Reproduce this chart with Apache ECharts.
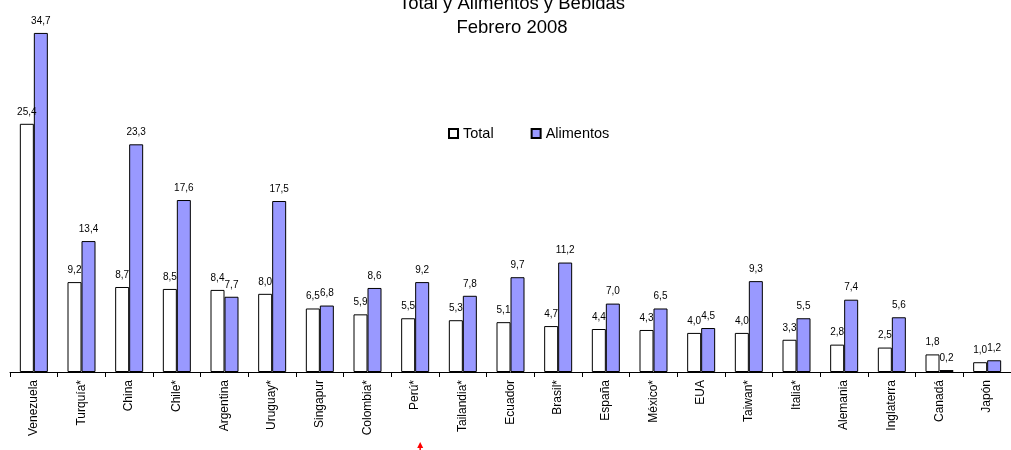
<!DOCTYPE html>
<html>
<head>
<meta charset="utf-8">
<script src="https://cdn.jsdelivr.net/npm/echarts@6/dist/echarts.min.js"></script>
<style>
  html, body { margin: 0; padding: 0; background: #fff; }
  #main { width: 1011px; height: 450px; }
</style>
</head>
<body>
<div id="main"></div>
<script>
var paises = ['Venezuela', 'Turquía*', 'China', 'Chile*', 'Argentina', 'Uruguay*', 'Singapur',
  'Colombia*', 'Perú*', 'Tailandia*', 'Ecuador', 'Brasil*', 'España', 'México*', 'EUA',
  'Taiwan*', 'Italia*', 'Alemania', 'Inglaterra', 'Canadá', 'Japón']
var total = [25.4, 9.2, 8.7, 8.5, 8.4, 8.0, 6.5, 5.9, 5.5, 5.3, 5.1, 4.7, 4.4, 4.3, 4.0,
  4.0, 3.3, 2.8, 2.5, 1.8, 1.0]
var alimentos = [34.7, 13.4, 23.3, 17.6, 7.7, 17.5, 6.8, 8.6, 9.2, 7.8, 9.7, 11.2, 7.0, 6.5, 4.5,
  9.3, 5.5, 7.4, 5.6, 0.2, 1.2]
var marcado = 'Perú*'

var fuente = 'Liberation Sans, Arial, sans-serif'

function etiqueta(p) {
  return p.value.toFixed(1).replace('.', ',')
}

var myChart = echarts.init(document.getElementById('main'))
var option = {
  animation: false,
  backgroundColor: '#ffffff',
  textStyle: { fontFamily: fuente },
  title: {
    text: 'Total y Alimentos y Bebidas\nFebrero 2008',
    left: 507,
    top: -13,
    textAlign: 'center',
    textStyle: {
      fontFamily: fuente,
      fontSize: 18.5,
      fontWeight: 'normal',
      color: '#000',
      lineHeight: 24
    }
  },
  legend: {
    left: 448,
    top: 126,
    padding: 0,
    itemWidth: 9,
    itemHeight: 9,
    itemGap: 37,
    icon: 'rect',
    textStyle: { fontFamily: fuente, fontSize: 14.5, color: '#000', padding: [0, 0, 0, 0] },
    data: ['Total', 'Alimentos']
  },
  grid: {
    left: 10,
    top: 30,
    width: 1008,
    bottom: 78,
    containLabel: false
  },
  xAxis: {
    type: 'category',
    data: paises,
    axisLine: { lineStyle: { color: '#000', width: 1 } },
    axisTick: { show: true, length: 5, lineStyle: { color: '#000' } },
    axisLabel: {
      rotate: 90,
      margin: 8,
      fontFamily: fuente,
      fontSize: 12,
      color: '#000'
    }
  },
  yAxis: {
    type: 'value',
    min: 0,
    max: 35,
    interval: 7,
    axisLine: { show: false },
    axisTick: { show: false },
    axisLabel: { show: false },
    splitLine: { show: false }
  },
  series: [{
    name: 'Total',
    type: 'bar',
    data: total,
    barWidth: 14,
    barGap: '0%',
    itemStyle: { color: '#ffffff', borderColor: '#000', borderWidth: 1 },
    label: {
      show: true,
      position: 'top',
      distance: 7,
      fontFamily: fuente,
      fontSize: 10,
      color: '#000',
      formatter: etiqueta
    }
  }, {
    name: 'Alimentos',
    type: 'bar',
    data: alimentos,
    barWidth: 14,
    itemStyle: { color: '#9999ff', borderColor: '#000', borderWidth: 1 },
    label: {
      show: true,
      position: 'top',
      distance: 7,
      fontFamily: fuente,
      fontSize: 10,
      color: '#000',
      formatter: etiqueta
    }
  }]
}
myChart.setOption(option)

// flecha roja bajo el país marcado
var px = myChart.convertToPixel({ xAxisIndex: 0 }, marcado) + 5
myChart.setOption({
  graphic: [{
    type: 'polygon',
    shape: { points: [[px, 442], [px - 3, 448], [px + 3, 448]] },
    style: { fill: '#ff0000' }
  }, {
    type: 'rect',
    shape: { x: px - 0.75, y: 446, width: 1.5, height: 6 },
    style: { fill: '#ff0000' }
  }]
})
</script>
</body>
</html>
